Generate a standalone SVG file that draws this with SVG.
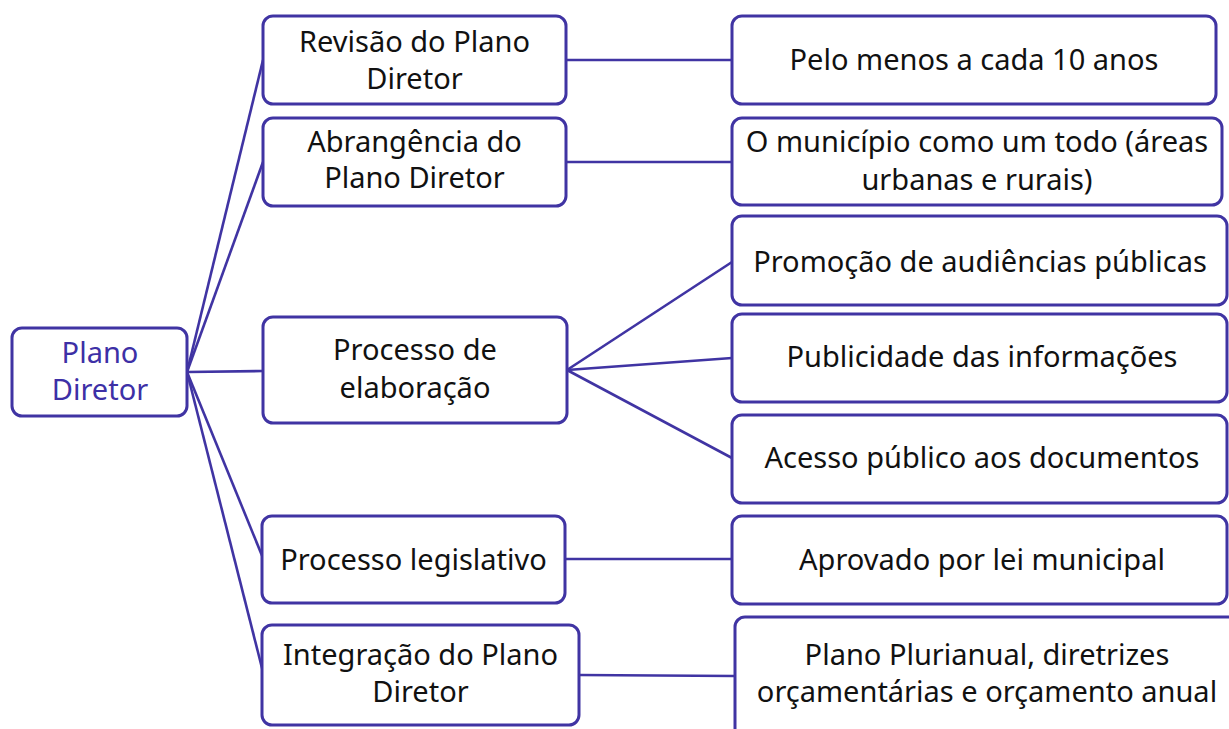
<svg xmlns="http://www.w3.org/2000/svg" width="1229" height="729" viewBox="0 0 1229 729">
<style>
.box{fill:#ffffff;stroke:#4034a3;stroke-width:3}
.ln{stroke:#4034a3;stroke-width:2.6;fill:none}
.t{font-family:"Noto Sans","Open Sans","Liberation Sans",sans-serif;font-size:29px;fill:#111111;text-anchor:middle}
.r{fill:#3d30a6}
</style>
<rect width="1229" height="729" fill="#ffffff"/>
<g id="connectors">
<line class="ln" x1="187" y1="372" x2="263" y2="60"/>
<line class="ln" x1="187" y1="372" x2="263" y2="162"/>
<line class="ln" x1="187" y1="372" x2="263" y2="371"/>
<line class="ln" x1="187" y1="372" x2="263" y2="558"/>
<line class="ln" x1="187" y1="372" x2="263" y2="672"/>
<line class="ln" x1="566" y1="60" x2="732" y2="60"/>
<line class="ln" x1="566" y1="162" x2="732" y2="162"/>
<line class="ln" x1="567" y1="370" x2="732" y2="262"/>
<line class="ln" x1="567" y1="370" x2="732" y2="358"/>
<line class="ln" x1="567" y1="370" x2="732" y2="458"/>
<line class="ln" x1="565" y1="559" x2="732" y2="559"/>
<line class="ln" x1="579" y1="675" x2="735" y2="676"/>
</g>
<g id="root">
<rect class="box" x="12" y="328" width="175" height="88" rx="10"/>
<text class="t r" x="100" y="363">Plano</text>
<text class="t r" x="100" y="400">Diretor</text>
</g>
<g id="revisao">
<rect class="box" x="263" y="16" width="303" height="88" rx="10"/>
<text class="t" x="414.5" y="52">Revisão do Plano</text>
<text class="t" x="414.5" y="89">Diretor</text>
</g>
<g id="abrangencia">
<rect class="box" x="263" y="118" width="303" height="88" rx="10"/>
<text class="t" x="414.5" y="152">Abrangência do</text>
<text class="t" x="414.5" y="188">Plano Diretor</text>
</g>
<g id="elaboracao">
<rect class="box" x="263" y="317" width="304" height="106" rx="10"/>
<text class="t" x="415" y="360">Processo de</text>
<text class="t" x="415" y="398">elaboração</text>
</g>
<g id="legislativo">
<rect class="box" x="262" y="516" width="303" height="87" rx="10"/>
<text class="t" x="413.5" y="570">Processo legislativo</text>
</g>
<g id="integracao">
<rect class="box" x="262" y="625" width="317" height="100" rx="10"/>
<text class="t" x="420.5" y="665">Integração do Plano</text>
<text class="t" x="420.5" y="702">Diretor</text>
</g>
<g id="pelo-menos">
<rect class="box" x="732" y="16" width="484" height="88" rx="10"/>
<text class="t" x="974" y="70">Pelo menos a cada 10 anos</text>
</g>
<g id="municipio">
<rect class="box" x="732" y="118" width="490" height="87" rx="10"/>
<text class="t" x="977" y="152">O município como um todo (áreas</text>
<text class="t" x="977" y="190">urbanas e rurais)</text>
</g>
<g id="promocao">
<rect class="box" x="732" y="216" width="495" height="89" rx="10"/>
<text class="t" x="980" y="272">Promoção de audiências públicas</text>
</g>
<g id="publicidade">
<rect class="box" x="732" y="314" width="495" height="88" rx="10"/>
<text class="t" x="982" y="367">Publicidade das informações</text>
</g>
<g id="acesso">
<rect class="box" x="732" y="415" width="495" height="88" rx="10"/>
<text class="t" x="982" y="468">Acesso público aos documentos</text>
</g>
<g id="aprovado">
<rect class="box" x="732" y="516" width="495" height="88" rx="10"/>
<text class="t" x="982" y="570">Aprovado por lei municipal</text>
</g>
<g id="plurianual">
<rect class="box" x="735" y="617" width="510" height="130" rx="10"/>
<text class="t" x="987" y="665">Plano Plurianual, diretrizes</text>
<text class="t" x="987" y="702">orçamentárias e orçamento anual</text>
</g>
</svg>
